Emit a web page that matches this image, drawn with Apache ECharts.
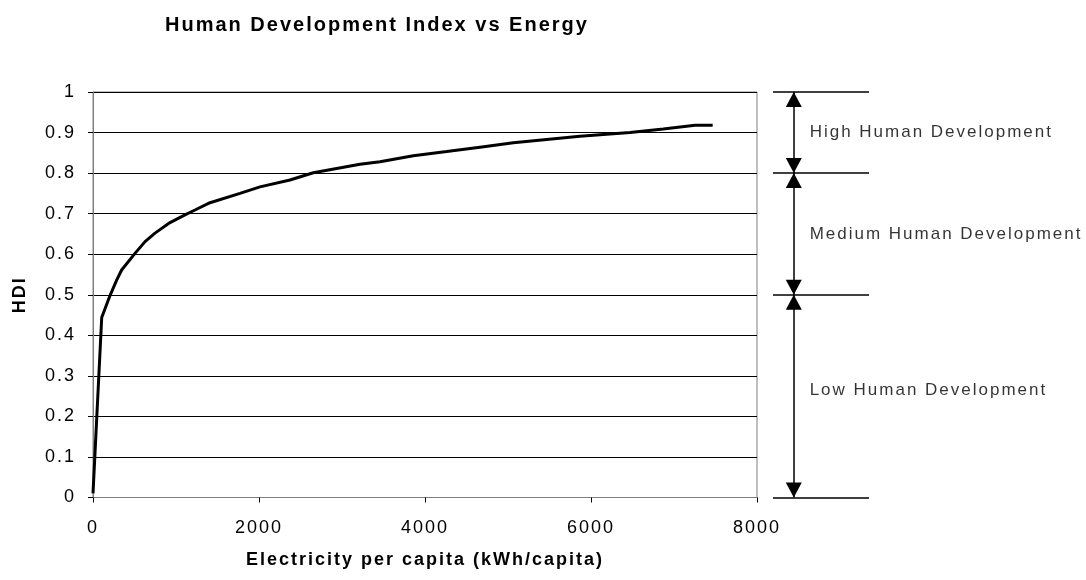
<!DOCTYPE html>
<html>
<head>
<meta charset="utf-8">
<script src="https://cdn.jsdelivr.net/npm/echarts@6/dist/echarts.min.js"></script>
<style>
html,body{margin:0;padding:0;background:#fff;}
#chart{width:1086px;height:580px;}
</style>
</head>
<body>
<div id="chart"></div>
<script>
// Electricity per capita (kWh/capita)
const electricity = [0, 105, 205, 285, 345, 506, 627, 747, 928, 1108, 1229, 1410, 1771, 2012, 2373, 2654, 3217, 3458, 3859, 4261, 4663, 5064, 5466, 5867, 6068, 6470, 6871, 7253, 7466];
// HDI values
const hdi = [0.01, 0.444, 0.498, 0.536, 0.561, 0.602, 0.631, 0.652, 0.678, 0.697, 0.709, 0.727, 0.750, 0.766, 0.783, 0.801, 0.822, 0.828, 0.843, 0.853, 0.864, 0.875, 0.883, 0.891, 0.894, 0.900, 0.909, 0.918, 0.918];
// Development band boundaries (HDI)
const bandBounds = [1, 0.8, 0.5, 0];
const bandNames = ['High Human Development', 'Medium Human Development', 'Low Human Development'];
const bandLabelY = [0.9, 0.65, 0.265];

// Letter spacing similar to the reference rendering
const SPACING = '2px';
(function () {
  const P = CanvasRenderingContext2D.prototype;
  const f = P.fillText, m = P.measureText;
  P.fillText = function () { try { this.letterSpacing = SPACING; } catch (e) {} return f.apply(this, arguments); };
  P.measureText = function () { try { this.letterSpacing = SPACING; } catch (e) {} return m.apply(this, arguments); };
})();

const FONT = 'Liberation Sans, Arial, sans-serif';
const curve = electricity.map((v, i) => [v, hdi[i]]);

const boundLines = bandBounds.map(b => [{coord: [0, b]}, {coord: [0.97, b]}]);
const arrows = bandNames.map((n, i) => [{coord: [0.21, bandBounds[i]]}, {coord: [0.21, bandBounds[i + 1]]}]);
const labels = bandNames.map((n, i) => [0.37, bandLabelY[i], n]);

const chart = echarts.init(document.getElementById('chart'), null, {renderer: 'canvas'});
chart.setOption({
  animation: false,
  backgroundColor: '#fff',
  title: {
    text: 'Human Development Index vs Energy',
    left: 160, top: 9,
    textStyle: {fontFamily: FONT, fontWeight: 'bold', fontSize: 20, color: '#000'}
  },
  grid: [
    {left: 93, right: 329, top: 92, bottom: 82.5, show: true, borderColor: '#808080', borderWidth: 1, containLabel: false},
    {left: 773, right: 214, top: 92, bottom: 82.5, show: false}
  ],
  xAxis: [
    {
      type: 'value', gridIndex: 0, min: 0, max: 8000, interval: 2000,
      name: 'Electricity per capita (kWh/capita)', nameLocation: 'middle', nameGap: 53,
      nameTextStyle: {fontFamily: FONT, fontWeight: 'bold', fontSize: 18, color: '#000'},
      axisLine: {show: true, lineStyle: {color: '#808080', width: 1}},
      axisTick: {show: true, length: 5, inside: false, lineStyle: {color: '#000'}},
      axisLabel: {fontFamily: FONT, fontSize: 18, color: '#000', margin: 21,
        formatter: v => String(Math.round(v))},
      splitLine: {show: false}
    },
    {type: 'value', gridIndex: 1, min: 0, max: 1, show: false}
  ],
  yAxis: [
    {
      type: 'value', gridIndex: 0, min: 0, max: 1, interval: 0.1,
      name: 'HDI', nameLocation: 'middle', nameGap: 63, nameRotate: 90,
      nameTextStyle: {fontFamily: FONT, fontWeight: 'bold', fontSize: 18, color: '#000'},
      axisLine: {show: true, lineStyle: {color: '#808080', width: 1}},
      axisTick: {show: true, length: 5, inside: false, lineStyle: {color: '#000'}},
      axisLabel: {fontFamily: FONT, fontSize: 18, color: '#000', margin: 17,
        formatter: v => (Math.round(v * 10) / 10).toString()},
      splitLine: {show: true, lineStyle: {color: '#000', width: 1}}
    },
    {type: 'value', gridIndex: 1, min: 0, max: 1, show: false}
  ],
  series: [
    {
      type: 'line', xAxisIndex: 0, yAxisIndex: 0, data: curve,
      showSymbol: false, symbol: 'none', smooth: false,
      lineStyle: {color: '#000', width: 3}
    },
    {
      type: 'scatter', xAxisIndex: 1, yAxisIndex: 1, data: labels,
      symbolSize: 0, clip: false, silent: true,
      label: {show: true, position: 'right', distance: 0, formatter: p => p.value[2],
        fontFamily: FONT, fontSize: 17, color: '#000'},
      markLine: {
        silent: true, symbol: ['none', 'none'], label: {show: false},
        lineStyle: {color: '#000', width: 1.5, type: 'solid'},
        data: boundLines
      }
    },
    {
      type: 'line', xAxisIndex: 1, yAxisIndex: 1, data: [], symbol: 'none',
      markLine: {
        silent: true, symbol: ['triangle', 'triangle'], symbolSize: [16, 15],
        symbolOffset: [[0, 7.5], [0, 7.5]],
        label: {show: false},
        lineStyle: {color: '#000', width: 1.5, type: 'solid'},
        data: arrows
      }
    }
  ]
});
</script>
</body>
</html>
